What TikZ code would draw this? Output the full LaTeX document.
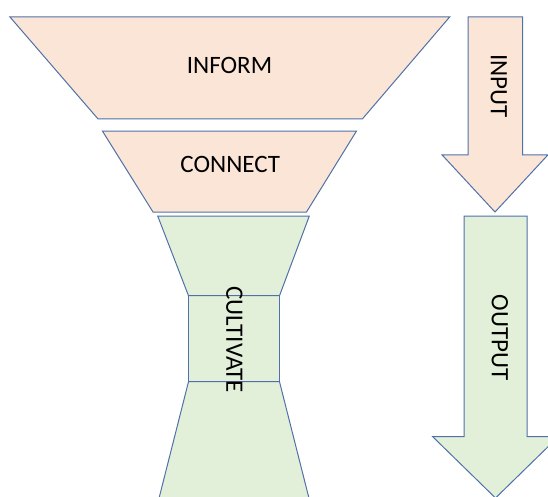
\documentclass[tikz,border=0pt]{standalone}
\usepackage{fontspec}
\setmainfont{Carlito}
\usepackage{tikz}
\usetikzlibrary{positioning}

\definecolor{peach}{HTML}{FBE5D6}
\definecolor{leaf}{HTML}{E2F0D9}
\definecolor{edge}{HTML}{4F71A8}

\tikzset{
  topfill/.style={fill=peach, draw=edge, line width=1pt, line join=miter},
  botfill/.style={fill=leaf, draw=edge, line width=1pt, line join=miter},
  word/.style={black, inner sep=0pt, font=\fontsize{25}{30}\selectfont}
}

\begin{document}
\begin{tikzpicture}[x=1pt, y=-1pt]
\clip (0,0) rectangle (548,496);
%funnel
\filldraw[topfill] (9.8,16.8) -- (449.8,16.8) -- (362.5,118.8) -- (97.9,118.8) -- cycle;
\filldraw[topfill] (102.4,131) -- (356.5,131) -- (306.5,212) -- (153,212) -- cycle;

%hourglass
\filldraw[botfill] (188.5,381.7) -- (279.5,381.7) -- (314.5,520) -- (153.5,520) -- cycle;
\filldraw[botfill] (188.5,295.7) rectangle (279.5,381.7);
\filldraw[botfill] (157.7,216) -- (309.3,216) -- (279.5,295.7) -- (188.5,295.7) -- cycle;

%arrows
\filldraw[topfill] (468,16.8) -- (522.5,16.8) -- (522.5,154.8) -- (548,154.8)
  -- (495,212) -- (442,154.8) -- (468,154.8) -- cycle;
\filldraw[botfill] (464,216) -- (527,216) -- (527,436.5) -- (558.5,436.5)
  -- (495.5,498) -- (432.5,436.5) -- (464,436.5) -- cycle;

%labels
\node[word](inform) at (229.5,65.9){INFORM};
\node[word](connect) at (230.2,164.8){CONNECT};
\node[word, rotate=-90](cultivate) at (234.3,339.7){CULTIVATE};
\node[word, rotate=-90](input) at (498.7,86.3){INPUT};
\node[word, rotate=-90](output) at (500,337.5){OUTPUT};

\end{tikzpicture}
\end{document}
